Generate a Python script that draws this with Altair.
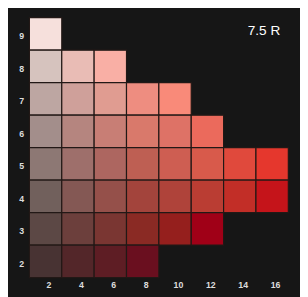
import altair as alt
import pandas as pd

# Munsell 7.5 R page: value (rows) x chroma (columns)
values = [9,
          8, 8, 8,
          7, 7, 7, 7, 7,
          6, 6, 6, 6, 6, 6,
          5, 5, 5, 5, 5, 5, 5, 5,
          4, 4, 4, 4, 4, 4, 4, 4,
          3, 3, 3, 3, 3, 3,
          2, 2, 2, 2]
chromas = [2,
           2, 4, 6,
           2, 4, 6, 8, 10,
           2, 4, 6, 8, 10, 12,
           2, 4, 6, 8, 10, 12, 14, 16,
           2, 4, 6, 8, 10, 12, 14, 16,
           2, 4, 6, 8, 10, 12,
           2, 4, 6, 8]
colors = ["#F6E0DC",
          "#D6C3BE", "#E9BCB5", "#F9AFA5",
          "#BDA6A2", "#CFA09A", "#E09C91", "#EE8D80", "#F98A79",
          "#A38E8B", "#B5857F", "#C87E75", "#D9796B", "#DE7266", "#EB6A5C",
          "#8D7874", "#9E6F6B", "#AD6660", "#BE5F53", "#CE5E52", "#D85A4B", "#E0493C", "#E5372D",
          "#71605C", "#845854", "#95504A", "#A3443C", "#AF433A", "#BA3D33", "#C22E27", "#C5141A",
          "#5C4845", "#6C3F3C", "#7A3632", "#8A2A24", "#951F1D", "#A00017",
          "#483333", "#532629", "#5E1D24", "#6A0F1F"]
x_ticks = [2, 4, 6, 8, 10, 12, 14, 16]
y_ticks = [2, 3, 4, 5, 6, 7, 8, 9]
hue_label = "7.5 R"

df = pd.DataFrame({"value": values, "chroma": chromas, "color": colors})
df["c0"] = df["chroma"] - 1
df["c1"] = df["chroma"] + 1
df["v0"] = df["value"] - 0.5
df["v1"] = df["value"] + 0.5

FONT = "Liberation Sans"

x_scale = alt.Scale(domain=[1, 17], nice=False, zero=False)
y_scale = alt.Scale(domain=[1.5, 9.5], nice=False, zero=False)

cells = alt.Chart(df).mark_rect(stroke="#221816", strokeWidth=1.2).encode(
    x=alt.X("c0:Q", scale=x_scale,
            axis=alt.Axis(values=x_ticks, title=None, grid=False, domain=False,
                          ticks=False, labelColor="#dddddd", labelFontSize=9,
                          labelFontWeight="bold", labelFont=FONT, labelPadding=3,
                          labelOffset=3, labelFlush=False)),
    x2="c1:Q",
    y=alt.Y("v0:Q", scale=y_scale,
            axis=alt.Axis(values=y_ticks, title=None, grid=False, domain=False,
                          ticks=False, labelColor="#dddddd", labelFontSize=9,
                          labelFontWeight="bold", labelFont=FONT, labelPadding=6,
                          labelOffset=2, labelFlush=False)),
    y2="v1:Q",
    color=alt.Color("color:N", scale=None),
)

label = alt.Chart(pd.DataFrame({"t": [hue_label]})).mark_text(
    font=FONT, fontSize=14, color="#ffffff", align="center", baseline="middle"
).encode(text="t:N", x=alt.value(241), y=alt.value(14))

chart = alt.layer(cells, label).properties(
    width=266, height=267,
    autosize=alt.AutoSizeParams(type="none"),
    padding={"left": 22, "top": 6, "right": 12, "bottom": 16},
    background="#161616",
).configure_view(stroke=None)

chart.save("out.html", embed_options={"renderer": "svg", "actions": False})
